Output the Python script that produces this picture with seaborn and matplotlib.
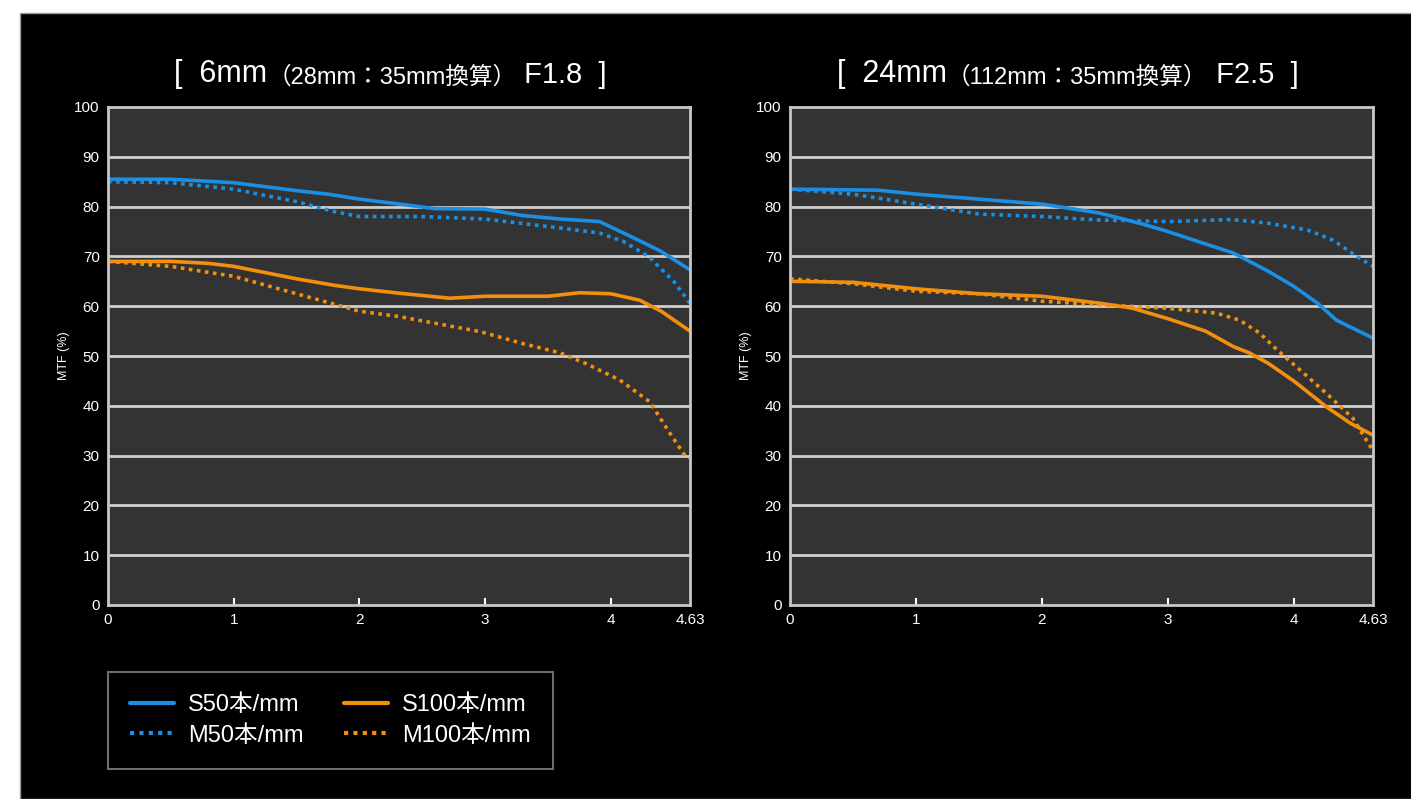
import numpy as np
import pandas as pd
import matplotlib
matplotlib.use('Agg')
import matplotlib.pyplot as plt
import seaborn as sb
from matplotlib.patches import Rectangle
from matplotlib.lines import Line2D

sb.set_style('dark')
plt.rcParams['font.family'] = ['Liberation Sans', 'Noto Sans CJK JP', 'DejaVu Sans']

# Data (image height in mm from center, MTF %)
# left: 6mm F1.8
l_s50_x = [0, 0.5, 1.0, 1.5, 1.75, 2.0, 2.32, 2.6, 3.0, 3.3, 3.6, 3.91, 4.2, 4.4, 4.63]
l_s50_y = [85.5, 85.5, 84.8, 83.2, 82.5, 81.5, 80.5, 79.6, 79.5, 78.2, 77.5, 77.0, 73.5, 71.0, 67.3]
l_m50_x = [0, 0.5, 1.0, 1.5, 1.8, 2.0, 2.5, 3.0, 3.5, 3.91, 4.1, 4.3, 4.5, 4.63]
l_m50_y = [85.0, 84.8, 83.5, 81.0, 79.0, 78.0, 78.0, 77.5, 76.0, 74.7, 73.0, 70.0, 65.0, 60.6]
l_s100_x = [0, 0.5, 0.8, 1.0, 1.5, 1.8, 2.0, 2.32, 2.72, 3.0, 3.5, 3.75, 4.0, 4.23, 4.4, 4.63]
l_s100_y = [69.0, 69.0, 68.6, 68.0, 65.5, 64.2, 63.5, 62.6, 61.6, 62.0, 62.0, 62.7, 62.5, 61.2, 59.0, 55.0]
l_m100_x = [0, 0.5, 1.0, 1.5, 2.0, 2.32, 2.96, 3.3, 3.6, 3.8, 4.07, 4.31, 4.47, 4.59, 4.63]
l_m100_y = [69.0, 68.0, 66.0, 62.5, 59.0, 57.9, 54.9, 52.5, 50.6, 48.5, 45.2, 40.8, 34.5, 30.0, 29.5]

# right: 24mm F2.5
r_s50_x = [0, 0.7, 1.0, 1.5, 2.0, 2.46, 2.8, 3.0, 3.3, 3.52, 3.8, 4.0, 4.19, 4.34, 4.5, 4.63]
r_s50_y = [83.5, 83.3, 82.5, 81.5, 80.5, 78.7, 76.5, 75.0, 72.5, 70.7, 67.0, 64.0, 60.6, 57.2, 55.2, 53.6]
r_m50_x = [0, 0.5, 1.0, 1.5, 2.0, 2.46, 3.0, 3.26, 3.5, 3.79, 4.11, 4.31, 4.52, 4.63]
r_m50_y = [83.5, 82.5, 80.5, 78.5, 78.0, 77.3, 77.0, 77.2, 77.4, 76.7, 75.3, 73.3, 69.7, 68.0]
r_s100_x = [0, 0.5, 1.0, 1.5, 2.0, 2.46, 2.72, 3.0, 3.3, 3.52, 3.65, 3.8, 4.0, 4.26, 4.45, 4.63]
r_s100_y = [65.0, 64.8, 63.5, 62.5, 62.0, 60.6, 59.6, 57.5, 55.0, 51.9, 50.6, 48.5, 45.0, 39.8, 36.5, 34.1]
r_m100_x = [0, 0.5, 1.0, 1.5, 2.0, 2.46, 2.99, 3.39, 3.57, 3.73, 3.87, 4.05, 4.26, 4.47, 4.63]
r_m100_y = [65.5, 64.5, 63.0, 62.5, 61.0, 60.3, 59.6, 58.6, 57.2, 54.6, 51.2, 47.2, 42.5, 37.5, 31.0]

titles = [('[  6mm', '（28mm：35mm換算）', ' F1.8  ]'),
          ('[  24mm', '（112mm：35mm換算）', ' F2.5  ]')]
x_ticks = [0, 1, 2, 3, 4, 4.63]
x_labels = ['0', '1', '2', '3', '4', '4.63']
y_ticks = list(range(0, 101, 10))
labels = ['S50本/mm', 'M50本/mm', 'S100本/mm', 'M100本/mm']

blue = '#1a8fe3'
orange = '#f28f0c'
dot = (0, (1.0, 1.25))
styles = [(blue, '-'), (blue, dot), (orange, '-'), (orange, dot)]

W, H = 1411, 799
fig = plt.figure(figsize=(W / 100, H / 100), dpi=100)
fig.patch.set_facecolor('white')
fig.patches.append(Rectangle((20 / W, 0), 1, 1 - 13 / H, transform=fig.transFigure,
                             facecolor='black', edgecolor='#999999', lw=1, zorder=-10))

panels = [
    ([108, 690], [(l_s50_x, l_s50_y), (l_m50_x, l_m50_y), (l_s100_x, l_s100_y), (l_m100_x, l_m100_y)]),
    ([790, 1373], [(r_s50_x, r_s50_y), (r_m50_x, r_m50_y), (r_s100_x, r_s100_y), (r_m100_x, r_m100_y)]),
]
title_x = [174, 837]

for k, (xr, series) in enumerate(panels):
    ax = fig.add_axes([xr[0] / W, 1 - 605 / H, (xr[1] - xr[0]) / W, 498 / H])
    ax.set_facecolor('#333333')
    for (xs, ys), (c, ls) in zip(series, styles):
        sb.lineplot(x=xs, y=ys, ax=ax, color=c, linestyle=ls, lw=2.6, sort=False)
    ax.set_xlim(0, 4.63)
    ax.set_ylim(0, 100)
    for v in range(10, 100, 10):
        ax.axhline(v, color='#cfcfcf', lw=2, zorder=1)
    ax.grid(False)
    for s in ax.spines.values():
        s.set_visible(True)
        s.set_color('#c8c8c8')
        s.set_linewidth(2)
    ax.set_xticks(x_ticks)
    ax.set_xticklabels(x_labels)
    ax.set_yticks(y_ticks)
    ax.tick_params(axis='x', direction='in', length=5, width=1.5, color='white',
                   labelcolor='white', labelsize=11, pad=6, bottom=True)
    ax.tick_params(axis='y', length=0, labelcolor='white', labelsize=11, pad=6)
    ax.xaxis.get_major_ticks()[0].tick1line.set_visible(False)
    ax.xaxis.get_major_ticks()[-1].tick1line.set_visible(False)
    ax.set_ylabel('MTF (%)', color='white', fontsize=9, labelpad=3)

    big, small, tail = titles[k]
    t1 = fig.text(title_x[k] / W, 1 - 82 / H, big, color='white', fontsize=22,
                  ha='left', va='baseline')
    t2 = ax.annotate(small, xy=(1, 0), xycoords=t1, xytext=(0, 0.5), textcoords='offset points',
                     color='white', fontsize=17, ha='left', va='bottom', annotation_clip=False)
    t3 = ax.annotate(tail, xy=(1, 0), xycoords=t2, xytext=(0, -0.5), textcoords='offset points',
                     color='white', fontsize=21, ha='left', va='bottom', annotation_clip=False)

handles = [Line2D([], [], color=c, linestyle=ls, lw=3) for c, ls in styles]
leg = fig.legend(handles, labels, ncol=2, loc='upper left',
                 bbox_to_anchor=(108 / W, 1 - 672 / H), bbox_transform=fig.transFigure,
                 frameon=True, fontsize=17, labelcolor='white', handlelength=1.85,
                 handletextpad=0.6, columnspacing=1.7, borderpad=0.95, labelspacing=0.35,
                 borderaxespad=0, fancybox=False)
leg.get_frame().set_facecolor('black')
leg.get_frame().set_edgecolor('#8a8a8a')
leg.get_frame().set_linewidth(1.5)

fig.savefig('out.png', dpi=100, facecolor=fig.get_facecolor())
